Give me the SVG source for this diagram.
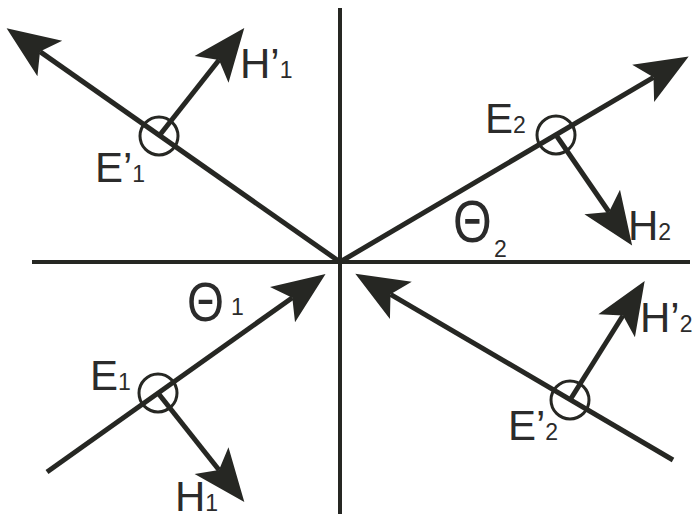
<svg xmlns="http://www.w3.org/2000/svg" width="696" height="519" viewBox="0 0 696 519">
<defs>
<style>
.ax{stroke:#262723;stroke-width:4;fill:none}
.ln{stroke:#262723;stroke-width:5;fill:none;marker-end:url(#ah)}
.c{stroke:#262723;stroke-width:3;fill:none}
text{font-family:"Liberation Sans",Arial,sans-serif;font-size:42px;fill:#2b2b2b}
.s{font-size:23px}
</style>
<marker id="ah" markerUnits="userSpaceOnUse" orient="auto" markerWidth="60" markerHeight="60" viewBox="-12 -20 50 40" refX="0" refY="0">
<path d="M34,0 L-10,-18 L0,0 L-10,18 Z" fill="#262723"/>
</marker>
</defs>
<rect width="696" height="519" fill="#fff"/>
<g id="axes">
<line class="ax" x1="340" y1="8" x2="340" y2="514"/>
<line class="ax" x1="32" y1="262" x2="690" y2="262"/>
</g>
<g id="connectors">
<line class="ln" x1="340" y1="262" x2="40" y2="51.6"/>
<line class="ln" x1="159" y1="136" x2="219" y2="60"/>
<line class="ln" x1="340" y1="262" x2="653.5" y2="77.3"/>
<line class="ln" x1="556" y1="135" x2="609" y2="212"/>
<line class="ln" x1="47" y1="472" x2="292.3" y2="297.7"/>
<line class="ln" x1="158" y1="393" x2="219" y2="470"/>
<line class="ln" x1="673" y1="460" x2="390.5" y2="294.3"/>
<line class="ln" x1="570" y1="400" x2="623" y2="315.5"/>
</g>
<g id="node-E1p">
<circle class="c" cx="159" cy="136" r="19"/>
<text x="95" y="182">E’<tspan class="s">1</tspan></text>
</g>
<g id="node-H1p">
<text x="240" y="78">H’<tspan class="s">1</tspan></text>
</g>
<g id="node-E2">
<circle class="c" cx="556" cy="135" r="19"/>
<text x="485" y="133">E<tspan class="s">2</tspan></text>
</g>
<g id="node-H2">
<text x="628" y="240">H<tspan class="s">2</tspan></text>
</g>
<g id="node-E1">
<circle class="c" cx="158" cy="393" r="19"/>
<text x="90" y="390">E<tspan class="s">1</tspan></text>
</g>
<g id="node-H1">
<text x="175" y="511">H<tspan class="s">1</tspan></text>
</g>
<g id="node-E2p">
<circle class="c" cx="570" cy="400" r="19"/>
<text x="508" y="440">E’<tspan class="s">2</tspan></text>
</g>
<g id="node-H2p">
<text x="640" y="332">H’<tspan class="s">2</tspan></text>
</g>
<g id="theta1">
<text transform="translate(187,321) scale(0.85,1)" style="font-size:56px">Θ</text>
<text class="s" x="231" y="315">1</text>
</g>
<g id="theta2">
<text transform="translate(453,242) scale(0.83,1)" style="font-size:60px">Θ</text>
<text class="s" x="494" y="257">2</text>
</g>
</svg>
